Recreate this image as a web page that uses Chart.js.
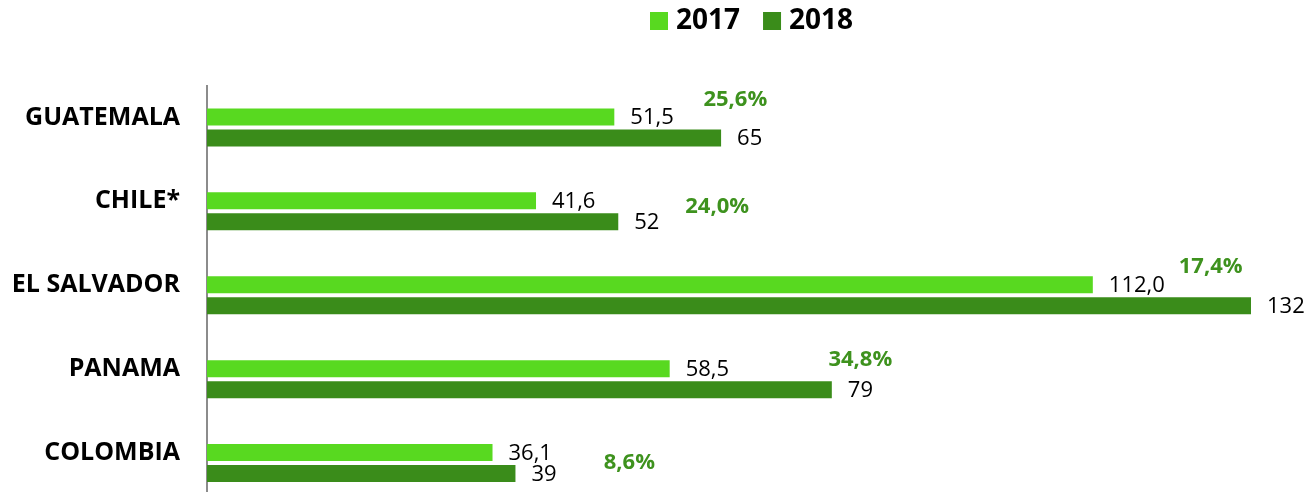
<!DOCTYPE html>
<html>
<head>
<meta charset="utf-8">
<script src="https://cdn.jsdelivr.net/npm/chart.js@4"></script>
<style>
	html, body { margin: 0; padding: 0; background: #fff; overflow: hidden; }
	#chart-parent { width: 1310px; height: 492px; overflow: hidden; }
</style>
</head>
<body>
<div id="chart-parent">
	<canvas id="chart" width="1310" height="547"></canvas>
</div>
<script>
	var countries = ['GUATEMALA', 'CHILE*', 'EL SALVADOR', 'PANAMA', 'COLOMBIA'];
	var values2017 = [51.5, 41.6, 112.0, 58.5, 36.1];
	var values2018 = [65, 52, 132, 79, 39];
	var growth = [25.6, 24.0, 17.4, 34.8, 8.6];

	// where the growth labels sit: [x in data units, y offset from category centre]
	var growthAt = [[66.8, -27.5], [64.5, -4.4], [126.9, -28.3], [82.6, -19.2], [53.4, 0]];

	var light = '#58d920';
	var dark = '#3a8c1a';
	var fontName = '"Open Sans", "Liberation Sans", sans-serif';

	function comma(v, d) {
		return v.toFixed(d).replace('.', ',');
	}

	var labelsPlugin = {
		id: 'labels',
		afterDatasetsDraw: function(chart) {
			var ctx = chart.ctx;
			ctx.save();
			ctx.textBaseline = 'middle';
			ctx.textAlign = 'left';
			ctx.fillStyle = '#000';
			ctx.font = '22px ' + fontName;
			chart.data.datasets.forEach(function(ds, i) {
				chart.getDatasetMeta(i).data.forEach(function(bar, j) {
					var txt = i == 0 ? comma(ds.data[j], 1) : String(ds.data[j]);
					ctx.fillText(txt, bar.x + 16, bar.y + 1);
				});
			});

			var xs = chart.scales.x;
			var ys = chart.scales.y;
			ctx.textAlign = 'center';
			ctx.fillStyle = '#3e921e';
			ctx.font = 'bold 22px ' + fontName;
			for (var k = 0; k < growth.length; k++) {
				var px = xs.getPixelForValue(growthAt[k][0]);
				var py = ys.getPixelForValue(k) + growthAt[k][1];
				ctx.fillText(comma(growth[k], 1) + '%', px, py);
			}

			// legend
			ctx.textAlign = 'left';
			ctx.font = 'bold 28px ' + fontName;
			var lx = 650;
			chart.data.datasets.forEach(function(ds) {
				ctx.fillStyle = ds.backgroundColor;
				ctx.fillRect(lx, 12, 18, 18);
				ctx.fillStyle = '#000';
				ctx.fillText(ds.label, lx + 26, 21);
				lx += 26 + ctx.measureText(ds.label).width + 23;
			});
			ctx.restore();
		}
	};

	new Chart(document.getElementById('chart'), {
		type: 'bar',
		data: {
			labels: countries,
			datasets: [
				{ label: '2017', data: values2017, backgroundColor: light },
				{ label: '2018', data: values2018, backgroundColor: dark }
			]
		},
		options: {
			indexAxis: 'y',
			responsive: false,
			animation: false,
			devicePixelRatio: 1,
			categoryPercentage: 0.5,
			barPercentage: 0.81,
			layout: {
				padding: { top: 85.5, right: 59, bottom: 0, left: 0 }
			},
			plugins: {
				legend: { display: false },
				tooltip: { enabled: false }
			},
			scales: {
				x: {
					display: false,
					min: 0,
					max: 132
				},
				y: {
					afterFit: function(scale) { scale.width = 207; },
					grid: { display: false, drawTicks: false },
					border: { display: true, color: '#8c8c8c', width: 2 },
					ticks: {
						color: '#000',
						padding: 27,
						labelOffset: -10,
						font: { family: fontName, size: 25, weight: 'bold' }
					}
				}
			}
		},
		plugins: [labelsPlugin]
	});
</script>
</body>
</html>
